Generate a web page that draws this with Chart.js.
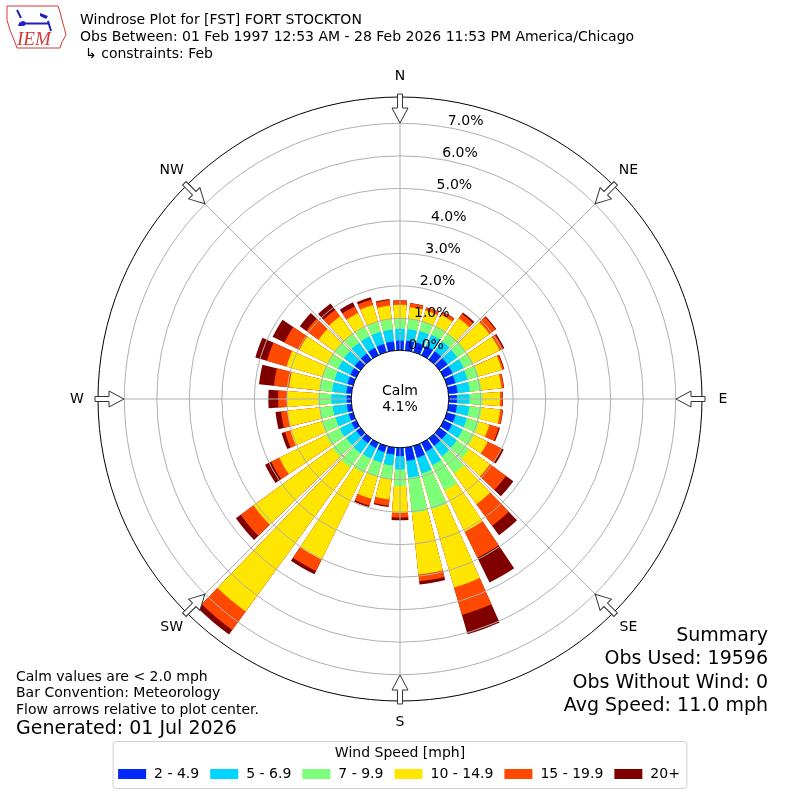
<!DOCTYPE html>
<html>
<head>
<meta charset="utf-8">
<script src="https://cdn.jsdelivr.net/npm/chart.js@4.4.1/dist/chart.umd.min.js"></script>
<style>
  body { margin: 0; background: #fff; }
  canvas { display: block; }
</style>
</head>
<body>
<canvas id="rose" width="800" height="800"></canvas>
<script>
// bar directions, degrees clockwise from north (where the wind comes from)
const directions = [0, 10, 20, 30, 40, 50, 60, 70, 80, 90, 100, 110, 120, 130, 140, 150, 160, 170,
                    180, 190, 200, 210, 220, 230, 240, 250, 260, 270, 280, 290, 300, 310, 320, 330, 340, 350];
const speedBins = ['2 - 4.9', '5 - 6.9', '7 - 9.9', '10 - 14.9', '15 - 19.9', '20+'];
const binColors = ['#0028ff', '#00d4ff', '#7cff79', '#ffe600', '#ff4800', '#800000'];

// percent of all obs, per direction, for each speed bin
const spd2to5   = [.32, .32, .33, .34, .34, .33, .32, .30, .30, .27, .28, .30, .30, .30, .30, .32, .40, .43,
                   .28, .24, .22, .20, .20, .18, .18, .16, .16, .16, .18, .20, .22, .24, .25, .27, .28, .30];
const spd5to7   = [.36, .36, .37, .38, .38, .37, .38, .38, .38, .39, .38, .36, .36, .38, .40, .46, .50, .52,
                   .41, .34, .34, .36, .38, .38, .40, .42, .44, .47, .44, .42, .42, .41, .41, .39, .39, .37];
const spd7to10  = [.30, .32, .30, .30, .30, .32, .32, .36, .36, .40, .39, .39, .39, .47, .65, .87, 1.15, 1.09,
                   .51, .42, .44, .49, .54, .52, .47, .44, .42, .41, .40, .38, .36, .35, .34, .32, .31, .31];
const spd10to15 = [.44, .36, .35, .38, .57, .90, .91, .74, .62, .54, .57, .33, .47, .79, 1.17, 1.41, 2.50, 1.91,
                   .82, .63, .71, 2.97, 5.48, 3.01, 1.60, 1.01, .98, .96, .93, 1.15, .96, .62, .66, .48, .55, .43];
const spd15to20 = [.13, .12, .10, .10, .17, .23, .12, .06, .07, .08, .08, .30, .48, .61, .82, .89, .88, .21,
                   .15, .19, .22, .39, .70, .49, .28, .17, .20, .27, .47, .63, .52, .46, .25, .23, .17, .17];
const spd20up   = [.01, .01, .01, .01, .05, .03, .04, .02, .01, .01, .01, .04, .07, .28, .36, .85, .62, .10,
                   .08, .04, .05, .11, .17, .18, .21, .11, .17, .30, .46, .37, .40, .25, .24, .14, .08, .03];

const ringTicks = [0, 1, 2, 3, 4, 5, 6, 7];
const compass = ['N', 'NE', 'E', 'SE', 'S', 'SW', 'W', 'NW'];
const calmPct = 4.1;
const titleLines = ['Windrose Plot for [FST] FORT STOCKTON',
                    'Obs Between: 01 Feb 1997 12:53 AM - 28 Feb 2026 11:53 PM America/Chicago',
                    '\u21B3 constraints: Feb'];
const summaryLines = ['Summary', 'Obs Used: 19596', 'Obs Without Wind: 0', 'Avg Speed: 11.0 mph'];
const noteLines = ['Calm values are < 2.0 mph', 'Bar Convention: Meteorology', 'Flow arrows relative to plot center.'];
const generatedText = 'Generated: 01 Jul 2026';

const FONT = '"DejaVu Sans", sans-serif';
const BAR_DEG = 8, GAP_DEG = 2;

// stack the bins: each dataset holds the running total, inner ones are drawn on top
const bins = [spd2to5, spd5to7, spd7to10, spd10to15, spd15to20, spd20up];
const labels = [];
directions.forEach(d => labels.push(d + '\u00B0', ''));
let running = directions.map(() => 0);
const datasets = bins.map((bin, k) => {
    running = running.map((v, i) => v + bin[i]);
    const data = [];
    running.forEach(v => data.push(v, 0));   // bar slot, then an empty gap slot
    return {
        label: speedBins[k],
        data: data,
        backgroundColor: c => (c.dataIndex % 2 ? 'rgba(0,0,0,0)' : binColors[k]),
        borderWidth: 0,
        angle: c => (c.dataIndex % 2 ? GAP_DEG : BAR_DEG)
    };
});

function drawLogo(ctx) {
    ctx.save();
    ctx.strokeStyle = '#d23a3a';
    ctx.lineWidth = 1;
    ctx.beginPath();
    ctx.moveTo(7, 6); ctx.lineTo(58, 6); ctx.lineTo(60, 12); ctx.lineTo(62, 20);
    ctx.lineTo(64, 27); ctx.lineTo(66, 35); ctx.lineTo(62, 42); ctx.lineTo(60, 48);
    ctx.lineTo(17, 48); ctx.lineTo(14, 40); ctx.lineTo(10, 30); ctx.lineTo(7, 20);
    ctx.closePath();
    ctx.stroke();
    ctx.strokeStyle = '#2020c0';
    ctx.lineWidth = 2;
    ctx.beginPath();
    ctx.moveTo(22, 23.5); ctx.lineTo(48, 23.5);
    ctx.moveTo(17, 10); ctx.lineTo(21, 18);
    ctx.moveTo(48, 21); ctx.lineTo(51, 31);
    ctx.stroke();
    ctx.fillStyle = '#2020c0';
    ctx.beginPath(); ctx.arc(23, 23.5, 2.5, 0, Math.PI * 2); ctx.fill();
    ctx.beginPath(); ctx.moveTo(18, 26); ctx.lineTo(20, 21); ctx.lineTo(22, 26); ctx.closePath(); ctx.fill();
    ctx.beginPath(); ctx.moveTo(40, 13); ctx.lineTo(48, 16); ctx.lineTo(46, 19); ctx.lineTo(40, 16); ctx.closePath(); ctx.fill();
    ctx.fillStyle = '#d23a3a';
    ctx.font = 'italic 19px "Liberation Serif", serif';
    ctx.textAlign = 'left';
    ctx.textBaseline = 'alphabetic';
    ctx.fillText('IEM', 17, 45);
    ctx.restore();
}

function drawArrow(ctx, cx, cy, rOut, deg) {
    ctx.save();
    ctx.translate(cx, cy);
    ctx.rotate(deg * Math.PI / 180);
    ctx.beginPath();
    ctx.moveTo(-2.5, -(rOut + 3));
    ctx.lineTo(2.5, -(rOut + 3));
    ctx.lineTo(2.5, -(rOut - 11));
    ctx.lineTo(8, -(rOut - 11));
    ctx.lineTo(0, -(rOut - 26));
    ctx.lineTo(-8, -(rOut - 11));
    ctx.lineTo(-2.5, -(rOut - 11));
    ctx.closePath();
    ctx.fillStyle = '#fff';
    ctx.fill();
    ctx.strokeStyle = '#333';
    ctx.lineWidth = 1;
    ctx.stroke();
    ctx.restore();
}

function drawLegend(ctx) {
    ctx.save();
    ctx.font = '14px ' + FONT;
    const boxW = 28, boxH = 10, textGap = 8, colGap = 11;
    let rowW = 0;
    speedBins.forEach((t, i) => {
        rowW += boxW + textGap + ctx.measureText(t).width + (i < speedBins.length - 1 ? colGap : 0);
    });
    let x = 399 - rowW / 2;
    const left = x - 5, right = x + rowW + 7, top = 741.5, bottom = 788.5, rad = 3;
    ctx.beginPath();
    ctx.moveTo(left + rad, top);
    ctx.arcTo(right, top, right, bottom, rad);
    ctx.arcTo(right, bottom, left, bottom, rad);
    ctx.arcTo(left, bottom, left, top, rad);
    ctx.arcTo(left, top, right, top, rad);
    ctx.closePath();
    ctx.fillStyle = '#fff';
    ctx.fill();
    ctx.strokeStyle = '#d0d0d0';
    ctx.lineWidth = 1;
    ctx.stroke();

    ctx.fillStyle = '#000';
    ctx.textAlign = 'center';
    ctx.textBaseline = 'middle';
    ctx.fillText('Wind Speed [mph]', 400, 753);
    ctx.textAlign = 'left';
    speedBins.forEach((t, i) => {
        ctx.fillStyle = binColors[i];
        ctx.fillRect(x, 774 - boxH / 2, boxW, boxH);
        x += boxW + textGap;
        ctx.fillStyle = '#000';
        ctx.fillText(t, x, 774);
        x += ctx.measureText(t).width + colGap;
    });
    ctx.restore();
}

const roseDecor = {
    id: 'roseDecor',
    beforeDraw(chart) {
        const ctx = chart.ctx;
        ctx.save();
        ctx.fillStyle = '#fff';
        ctx.fillRect(0, 0, chart.width, chart.height);
        ctx.restore();
    },
    afterDraw(chart) {
        const ctx = chart.ctx;
        const sc = chart.scales.r;
        const cx = sc.xCenter, cy = sc.yCenter, rOut = sc.drawingArea;
        const r0 = sc.getDistanceFromCenterForValue(0);
        ctx.save();

        // spokes every 45 degrees, on top of the bars
        ctx.strokeStyle = '#b0b0b0';
        ctx.lineWidth = 1;
        compass.forEach((name, k) => {
            const a = k * Math.PI / 4;
            ctx.beginPath();
            ctx.moveTo(cx + r0 * Math.sin(a), cy - r0 * Math.cos(a));
            ctx.lineTo(cx + rOut * Math.sin(a), cy - rOut * Math.cos(a));
            ctx.stroke();
        });

        // calm circle
        ctx.beginPath();
        ctx.arc(cx, cy, r0 + 0.7, 0, Math.PI * 2);
        ctx.fillStyle = '#fff';
        ctx.fill();
        ctx.strokeStyle = '#000';
        ctx.lineWidth = 1;
        ctx.stroke();
        ctx.fillStyle = '#000';
        ctx.font = '14px ' + FONT;
        ctx.textAlign = 'center';
        ctx.textBaseline = 'middle';
        ctx.fillText('Calm', cx, cy - 8);
        ctx.fillText(calmPct.toFixed(1) + '%', cx, cy + 8);

        // ring labels, 10 degrees east of north
        const la = 10 * Math.PI / 180;
        ctx.textAlign = 'left';
        ctx.textBaseline = 'bottom';
        ringTicks.forEach(p => {
            const rr = sc.getDistanceFromCenterForValue(p);
            ctx.fillText(p.toFixed(1) + '%', cx + rr * Math.sin(la), cy - rr * Math.cos(la) + 1);
        });

        // compass arrows and names
        compass.forEach((name, k) => {
            drawArrow(ctx, cx, cy, rOut, k * 45);
            const a = k * Math.PI / 4;
            ctx.fillStyle = '#000';
            ctx.textAlign = 'center';
            ctx.textBaseline = 'middle';
            ctx.fillText(name, cx + (rOut + 21) * Math.sin(a), cy - (rOut + 21) * Math.cos(a));
        });

        // header
        drawLogo(ctx);
        ctx.fillStyle = '#000';
        ctx.font = '14px ' + FONT;
        ctx.textAlign = 'left';
        ctx.textBaseline = 'middle';
        ctx.fillText(titleLines[0], 80, 20.5);
        ctx.fillText(titleLines[1], 80, 37.5);
        ctx.fillText(titleLines[2], 85, 54);

        // footer notes
        noteLines.forEach((t, i) => ctx.fillText(t, 16, 677 + i * 16.5));
        ctx.font = '19px ' + FONT;
        ctx.fillText(generatedText, 16, 729);

        ctx.textAlign = 'right';
        summaryLines.forEach((t, i) => ctx.fillText(t, 768, 636 + i * 23.3));

        ctx.restore();
        drawLegend(ctx);
    }
};

new Chart(document.getElementById('rose'), {
    type: 'polarArea',
    data: { labels: labels, datasets: datasets },
    options: {
        responsive: false,
        devicePixelRatio: 1,
        animation: false,
        events: [],
        layout: { padding: { left: 98, right: 98, top: 97, bottom: 99 } },
        plugins: { legend: { display: false }, tooltip: { enabled: false } },
        scales: {
            r: {
                min: -1.48,
                max: 7.81,
                startAngle: -BAR_DEG / 2,
                ticks: { display: false, stepSize: 1 },
                pointLabels: { display: false },
                angleLines: { display: false },
                grid: {
                    z: 1,
                    circular: true,
                    lineWidth: 1,
                    color: c => {
                        const v = c.tick.value;
                        if (v >= 7.81) return '#000';
                        return ringTicks.includes(v) ? '#b0b0b0' : 'rgba(0,0,0,0)';
                    }
                }
            }
        }
    },
    plugins: [roseDecor]
});
</script>
</body>
</html>
